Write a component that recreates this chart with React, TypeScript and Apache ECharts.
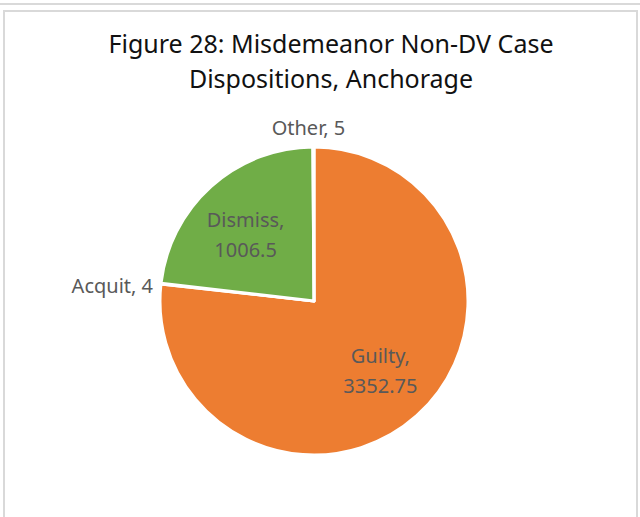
import React, { useEffect, useRef } from "react";
import * as echarts from "echarts";

const categories = ["Guilty", "Acquit", "Dismiss", "Other"];
const values = [3352.75, 4, 1006.5, 5];
const colors = ["#ED7D31", "#A5A5A5", "#70AD47", "#FFC000"];
const insideLabels = ["Guilty", "Dismiss"];
const titleText = "Figure 28: Misdemeanor Non-DV Case\nDispositions, Anchorage";

export default function App() {
  const ref = useRef<HTMLDivElement>(null);
  useEffect(() => {
    if (!ref.current) return;
    const chart = echarts.init(ref.current, null, { renderer: "svg" });
    const font = '"Noto Sans", "Open Sans", sans-serif';
    const labelAdjust: Record<string, any> = {
      Guilty: { dx: 13, dy: 10 },
      Dismiss: { dx: -15, dy: -7 },
      Acquit: { dx: 3, dy: 3 },
      Other: { align: "center", dx: 0, dy: -14 },
    };
    chart.setOption({
      animation: false,
      backgroundColor: "#ffffff",
      title: {
        text: titleText,
        left: 331,
        textAlign: "center",
        top: 25,
        padding: 0,
        textStyle: {
          fontFamily: font,
          fontSize: 25,
          fontWeight: "normal",
          color: "#111111",
          lineHeight: 35,
        },
      },
      graphic: [
        { type: "line", shape: { x1: 0, y1: 4, x2: 640, y2: 4 }, style: { stroke: "#d9d9d9", lineWidth: 2 } },
        { type: "rect", shape: { x: 4, y: 11, width: 633, height: 520 }, style: { fill: "none", stroke: "#d9d9d9", lineWidth: 2 } },
      ],
      series: [
        {
          type: "pie",
          center: [314, 301],
          radius: [0, 154],
          startAngle: 90,
          clockwise: true,
          avoidLabelOverlap: false,
          itemStyle: { borderColor: "#ffffff", borderWidth: 3 },
          labelLine: { show: false, length: 6, length2: 0 },
          label: {
            formatter: (p: any) =>
              insideLabels.includes(p.name) ? `${p.name},\n${p.value}` : `${p.name}, ${p.value}`,
            fontFamily: font,
            fontSize: 20,
            color: "#595959",
            lineHeight: 30,
          },
          labelLayout: (p: any) => labelAdjust[categories[p.dataIndex]] || {},
          data: categories.map((c, i) => ({
            name: c,
            value: values[i],
            itemStyle: { color: colors[i] },
            label: { position: insideLabels.includes(c) ? "inside" : "outside" },
          })),
        },
      ],
    });
    return () => chart.dispose();
  }, []);
  return (
    <div
      ref={ref}
      style={{ position: "fixed", left: 0, top: 0, width: 640, height: 517 }}
    />
  );
}
